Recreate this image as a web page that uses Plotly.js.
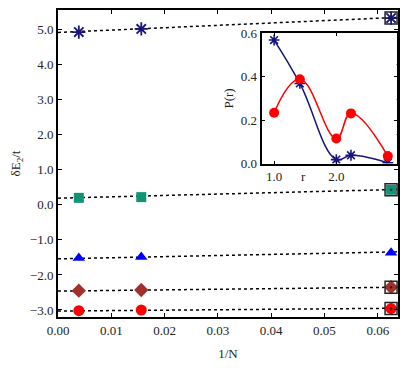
<!DOCTYPE html>
<html>
<head>
<meta charset="utf-8">
<script src="https://cdn.plot.ly/plotly-3.0.1.min.js"></script>
<style>body{margin:0;background:#fff}#plot{width:415px;height:373px}</style>
</head>
<body>
<div id="plot"></div>
<script>
// main panel: 1/N for N = 256, 64, 16
var invN = [0.00390625, 0.015625, 0.0625];
var starE = [4.93, 5.02, 5.33];
var squareE = [0.20, 0.22, 0.43];
var triE = [-1.52, -1.49, -1.37];
var diamondE = [-2.45, -2.43, -2.35];
var circleE = [-3.02, -3.00, -2.96];

// dotted extrapolation lines, read at both ends
var fitX = [0, 0.0638];
var starFit = [4.92, 5.35];
var squareFit = [0.19, 0.44];
var triFit = [-1.54, -1.34];
var diamondFit = [-2.46, -2.35];
var circleFit = [-3.03, -2.95];

// inset: P(r)
var r = [1.0, 1.414, 2.0, 2.236, 2.828];
var pBlue = [0.569, 0.369, 0.018, 0.038, 0.003];
var pRed = [0.234, 0.388, 0.115, 0.231, 0.034];

var navy = '#14147a', green = '#0f9474', blue = '#0000ff', brown = '#a3302b', red = '#ff0000';
var serif = 'Liberation Serif';

function fit(y) {
    return {x: fitX, y: y, mode: 'lines', line: {color: '#000', width: 1.5, dash: '3px,3px'},
            xaxis: 'x', yaxis: 'y', hoverinfo: 'skip'};
}
function pts(y, sym, col, size) {
    var m = {symbol: sym, size: size, color: col};
    if (sym.indexOf('open') >= 0) m.line = {color: col, width: 1.8};
    return {x: invN, y: y, mode: 'markers', marker: m, xaxis: 'x', yaxis: 'y'};
}

var traces = [
    fit(starFit), fit(squareFit), fit(triFit), fit(diamondFit), fit(circleFit),
    pts(starE, 'asterisk-open', navy, 11),
    pts(squareE, 'square', green, 10),
    pts(triE, 'triangle-up', blue, 11),
    pts(diamondE, 'diamond', brown, 11),
    pts(circleE, 'circle', red, 11),
    // black boxes round the N=16 points
    {x: [invN[2], invN[2], invN[2], invN[2]], y: [starE[2], squareE[2], diamondE[2], circleE[2]],
     mode: 'markers', marker: {symbol: 'square-open-dot', size: 12, color: '#222', line: {color: '#222', width: 1.5}},
     xaxis: 'x', yaxis: 'y'},
    {x: r, y: pBlue, mode: 'lines+markers', line: {shape: 'spline', smoothing: 1.2, color: navy, width: 1.5},
     marker: {symbol: 'asterisk-open', size: 9, color: navy, line: {color: navy, width: 1.6}},
     xaxis: 'x2', yaxis: 'y2'},
    {x: r, y: pRed, mode: 'lines+markers', line: {shape: 'spline', smoothing: 1.2, color: red, width: 1.5},
     marker: {symbol: 'circle', size: 10, color: red},
     xaxis: 'x2', yaxis: 'y2'}
];

var axBase = {showgrid: false, zeroline: false, showline: true, linecolor: '#000', linewidth: 2,
              mirror: 'ticks', ticks: 'inside', ticklen: 4, tickcolor: '#000',
              tickfont: {family: serif, size: 13, color: '#222'}};

var layout = {
    width: 415, height: 373,
    margin: {l: 58, r: 17, t: 10, b: 56},
    paper_bgcolor: '#fff', plot_bgcolor: '#fff',
    showlegend: false,
    font: {family: serif, size: 13, color: '#222'},
    xaxis: Object.assign({}, axBase, {range: [0, 0.0638], dtick: 0.01, tick0: 0, tickformat: '.2f',
        title: {text: '1/N', font: {family: serif, size: 13}, standoff: 12}}),
    yaxis: Object.assign({}, axBase, {range: [-3.2, 5.56], dtick: 1, tick0: 0, tickformat: '.1f',
        title: {text: 'δE<sub>2</sub>/t', font: {family: serif, size: 13}, standoff: 6}}),
    xaxis2: Object.assign({}, axBase, {domain: [0.599, 0.996], anchor: 'y2', range: [0.8, 2.97],
        tickvals: [1, 2], ticktext: ['1.0', '2.0'], ticklen: 3}),
    yaxis2: Object.assign({}, axBase, {domain: [0.5, 0.924], anchor: 'x2', range: [0, 0.6], dtick: 0.2,
        tickformat: '.1f', ticklen: 3,
        title: {text: 'P(r)', font: {family: serif, size: 13}, standoff: 4}}),
    annotations: [{text: 'r', xref: 'x2', yref: 'paper', x: 1.48, y: 0.5, yshift: -3,
        yanchor: 'top', showarrow: false, font: {family: serif, size: 13, color: '#222'}}]
};

Plotly.newPlot('plot', traces, layout, {displayModeBar: false, staticPlot: true});
</script>
</body>
</html>
